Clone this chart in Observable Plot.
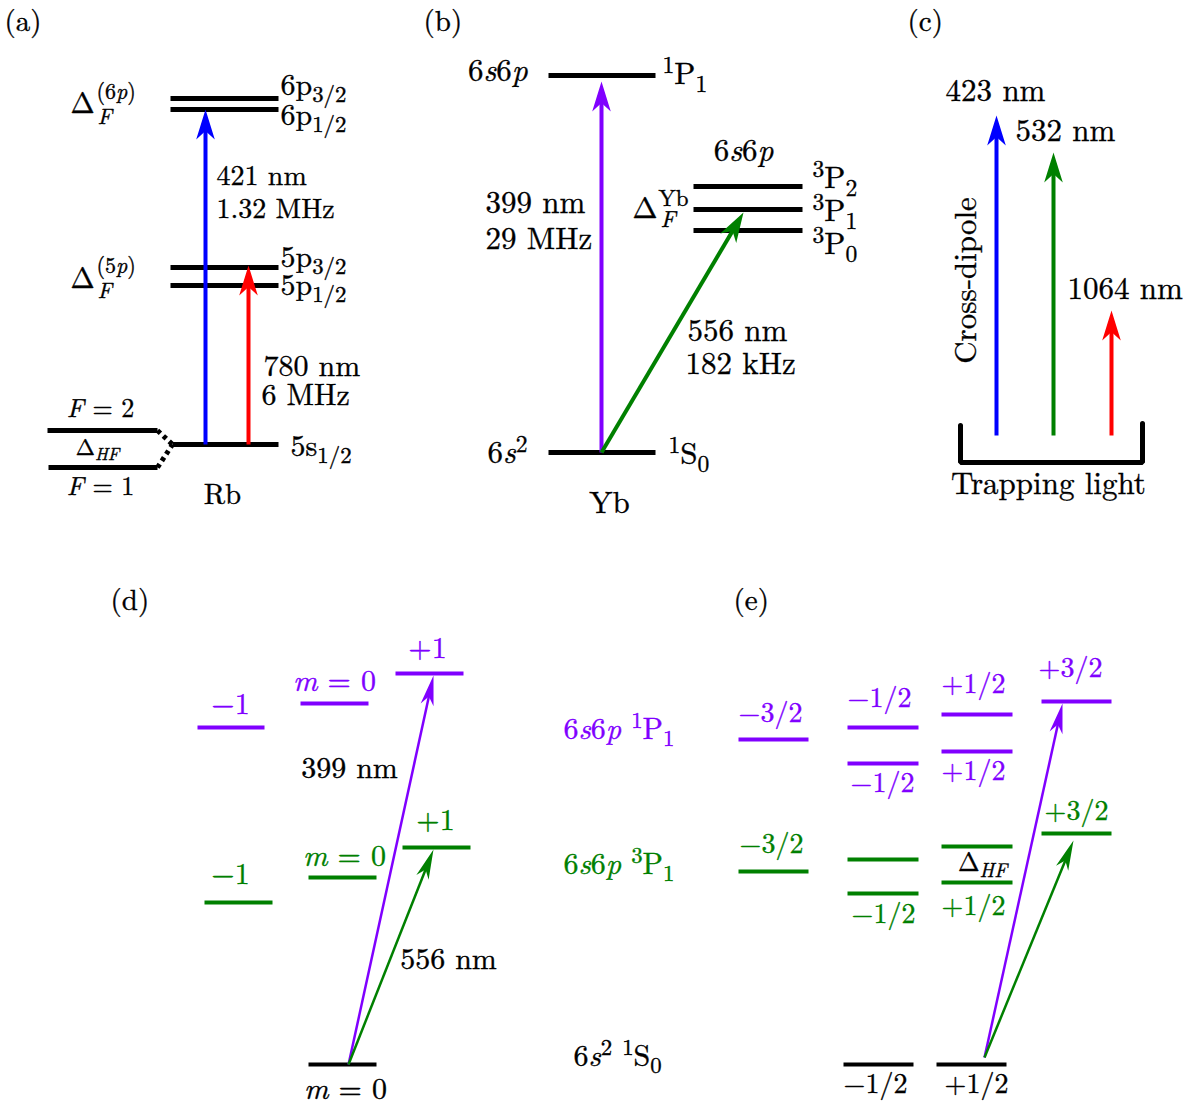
<!DOCTYPE html>
<html><head><meta charset="utf-8">
<script src="https://cdn.jsdelivr.net/npm/d3@7"></script>
<script src="https://cdn.jsdelivr.net/npm/@observablehq/plot@0.6"></script>
<style>
html,body{margin:0;padding:0;background:#fff;}
#chart svg{display:block;}
</style></head><body><div id="chart"></div>
<script>
const W = 1198, H = 1107;

// colour keys
const colorKeys = ["k", "b", "r", "v", "g"];
const colorValues = ["#000000", "#0000ff", "#ff0000", "#8000ff", "#008000"];

// energy levels (x1, x2, y, colour key) — panels (a),(b)
const levelsTop = [
  [170, 278, 98, "k"], [170, 278, 109, "k"],
  [170, 278, 267, "k"], [170, 278, 285, "k"],
  [172, 278, 444, "k"],
  [47, 157, 430, "k"], [48, 157, 467, "k"],
  [548, 655, 75, "k"],
  [693, 802, 186, "k"], [693, 802, 209, "k"], [693, 802, 230, "k"],
  [548, 655, 452, "k"]
];
// panels (d),(e)
const levelsBottom = [
  [197, 264, 727, "v"], [300, 368, 703, "v"], [395, 463, 673, "v"],
  [204, 272, 902, "g"], [308, 376, 877, "g"], [402, 470, 847, "g"],
  [308, 376, 1064, "k"],
  [738, 808, 739, "v"], [847, 918, 727, "v"], [847, 918, 763, "v"],
  [941, 1012, 714, "v"], [941, 1012, 751, "v"], [1041, 1111, 701, "v"],
  [738, 808, 871, "g"], [847, 918, 859, "g"], [847, 918, 893, "g"],
  [941, 1012, 846, "g"], [941, 1012, 882, "g"], [1041, 1111, 833, "g"],
  [843, 913, 1064, "k"], [936, 1006, 1064, "k"]
];
// hyperfine connectors (dotted)
const connectors = [
  [157, 430, 172, 444], [157, 467, 172, 444]
];
// trap bracket of panel (c)
const bracket = [[960, 425], [960, 462], [1142, 462], [1142, 423]];

// transitions (x1, y1, x2, y2, colour key)
const arrowsTop = [
  [205, 444, 205, 109, "b"], [248, 444, 248, 265, "r"],
  [601, 452, 601, 81, "v"], [601, 452, 743, 212, "g"],
  [996, 435, 996, 115, "b"], [1053, 435, 1053, 152, "g"], [1111, 435, 1111, 310, "r"]
];
const arrowsBottom = [
  [348, 1064, 433, 675, "v"], [348, 1064, 433, 849, "g"],
  [984, 1057, 1062, 703, "v"], [984, 1057, 1073, 840, "g"]
];

// labels: x, y, text, colour key, font size
const labelsStart = [
  [4, 21, "(a)", "k", 29],
  [280, 85, "6p_{3/2}", "k", 30], [280, 115, "6p_{1/2}", "k", 30],
  [280, 257, "5p_{3/2}", "k", 30], [280, 285, "5p_{1/2}", "k", 30],
  [290, 446, "5s_{1/2}", "k", 30],
  [70, 103, "Δ", "k", 29], [96, 91, "(6*p*)", "k", 22], [97, 116, "*F*", "k", 22],
  [70, 278, "Δ", "k", 29], [96, 265, "(5*p*)", "k", 22], [97, 290, "*F*", "k", 22],
  [216, 176, "421 nm", "k", 28], [216, 209, "1.32 MHz", "k", 28],
  [263, 366, "780 nm", "k", 30], [261, 395, "6 MHz", "k", 30],
  [423, 21, "(b)", "k", 29],
  [662, 74, "^{1}P_{1}", "k", 31],
  [812, 178, "^{3}P_{2}", "k", 31], [812, 211, "^{3}P_{1}", "k", 31], [812, 244, "^{3}P_{0}", "k", 31],
  [632, 208, "Δ", "k", 30], [658, 198, "Yb", "k", 23], [660, 219, "*F*", "k", 23],
  [485, 203, "399 nm", "k", 31], [485, 239, "29 MHz", "k", 31],
  [687, 331, "556 nm", "k", 31], [685, 364, "182 kHz", "k", 31],
  [668, 454, "^{1}S_{0}", "k", 31],
  [907, 21, "(c)", "k", 29], [1015, 131, "532 nm", "k", 31], [1067, 289, "1064 nm", "k", 31],
  [110, 600, "(d)", "k", 29],
  [733, 600, "(e)", "k", 29],
  [563, 729, "6*s*6*p* ^{1}P_{1}", "v", 30],
  [563, 864, "6*s*6*p* ^{3}P_{1}", "g", 30],
  [573, 1056, "6*s*^{2} ^{1}S_{0}", "k", 30]
];
const labelsEnd = [
  [527, 71, "6*s*6*p*", "k", 31], [527, 453, "6*s*^{2}", "k", 31]
];
const labelsMiddle = [
  [100, 408, "*F* = 2", "k", 26], [97, 447, "Δ_{*HF*}", "k", 23], [100, 486, "*F* = 1", "k", 26],
  [222, 494, "Rb", "k", 29],
  [743, 151, "6*s*6*p*", "k", 31], [609, 503, "Yb", "k", 31],
  [995, 91, "423 nm", "k", 31], [1048, 484, "Trapping light", "k", 31],
  [230, 704, "−1", "v", 30], [334, 681, "*m* = 0", "v", 30], [427, 648, "+1", "v", 30],
  [230, 874, "−1", "g", 30], [344, 856, "*m* = 0", "g", 30], [435, 820, "+1", "g", 30],
  [349, 768, "399 nm", "k", 30], [448, 959, "556 nm", "k", 30], [345, 1089, "*m* = 0", "k", 30],
  [770, 713, "−3/2", "v", 28], [771, 844, "−3/2", "g", 28],
  [879, 698, "−1/2", "v", 28], [973, 684, "+1/2", "v", 28], [1070, 668, "+3/2", "v", 28],
  [882, 783, "−1/2", "v", 28], [973, 771, "+1/2", "v", 28],
  [1076, 811, "+3/2", "g", 28], [982, 862, "Δ_{*HF*}", "k", 26],
  [883, 914, "−1/2", "g", 28], [973, 906, "+1/2", "g", 28],
  [875, 1084, "−1/2", "k", 28], [976, 1084, "+1/2", "k", 28]
];
const labelsRotated = [[966, 280, "Cross-dipole", "k", 31]];

// stealth arrow head symbol, tip at origin pointing up
function stealth(halfRatio) {
  return {
    draw(ctx, size) {
      const L = Math.sqrt(size / Math.PI);
      const w = L * halfRatio;
      ctx.moveTo(0, 0);
      ctx.lineTo(-w, L);
      ctx.lineTo(0, L * 0.72);
      ctx.lineTo(w, L);
      ctx.closePath();
    }
  };
}
const angle = d => Math.atan2(d[2] - d[0], -(d[3] - d[1])) * 180 / Math.PI;
const FONT = "Latin Modern Roman, Liberation Serif, serif";

function levelMark(data, sw) {
  return Plot.link(data, {x1: d => d[0], x2: d => d[1], y1: d => d[2], y2: d => d[2], stroke: d => d[3], strokeWidth: sw, strokeLinecap: "butt"});
}
function arrowMarks(data, sw, headLen, half) {
  return [
    Plot.arrow(data, {x1: d => d[0], y1: d => d[1], x2: d => d[2], y2: d => d[3], stroke: d => d[4], strokeWidth: sw, headLength: 0, insetEnd: headLen * 0.6, strokeLinecap: "butt"}),
    Plot.dot(data, {x: d => d[2], y: d => d[3], fill: d => d[4], r: headLen, symbol: stealth(half), rotate: angle, stroke: "none"})
  ];
}
function textMark(data, anchor, extra = {}) {
  return Plot.text(data, {x: d => d[0], y: d => d[1], text: d => d[2], fill: d => d[3], fontSize: d => d[4], textAnchor: anchor, fontFamily: FONT, ...extra});
}

const plot = Plot.plot({
  width: W, height: H, margin: 0,
  x: {domain: [0, W], range: [0, W], axis: null},
  y: {domain: [0, H], range: [0, H], axis: null},
  color: {type: "ordinal", domain: colorKeys, range: colorValues},
  marks: [
    levelMark(levelsTop, 5),
    levelMark(levelsBottom, 3.8),
    Plot.link(connectors, {x1: d => d[0], y1: d => d[1], x2: d => d[2], y2: d => d[3], stroke: "black", strokeWidth: 5, strokeDasharray: "4,4"}),
    Plot.line(bracket, {x: d => d[0], y: d => d[1], stroke: "black", strokeWidth: 5, strokeLinejoin: "miter"}),
    ...arrowMarks(arrowsTop, 4, 30, 0.31),
    ...arrowMarks(arrowsBottom, 2.5, 30, 0.22),
    textMark(labelsStart, "start"),
    textMark(labelsEnd, "end"),
    textMark(labelsMiddle, "middle"),
    textMark(labelsRotated, "middle", {rotate: -90})
  ]
});
plot.setAttribute("font-family", FONT);
document.getElementById("chart").appendChild(plot);

// lightweight markup: *italic*, _{sub}, ^{sup}
function parse(str) {
  const out = []; let italic = false; let i = 0; let buf = "";
  const flush = () => { if (buf) out.push({text: buf, mode: "n", italic}); buf = ""; };
  while (i < str.length) {
    const c = str[i];
    if (c === "*") { flush(); italic = !italic; i++; }
    else if ((c === "_" || c === "^") && str[i + 1] === "{") {
      flush();
      const j = str.indexOf("}", i);
      const inner = str.slice(i + 2, j);
      let it = italic;
      inner.split("*").forEach((part, k) => { if (k > 0) it = !it; if (part) out.push({text: part, mode: c === "_" ? "sub" : "sup", italic: it}); });
      i = j + 1;
    } else { buf += c; i++; }
  }
  flush();
  return out;
}
plot.querySelectorAll("text").forEach(t => {
  t.setAttribute("font-family", FONT);
  t.style.fontFamily = FONT;
  const fill = t.getAttribute("fill");
  if (fill) { t.setAttribute("stroke", fill); t.setAttribute("stroke-width", 0.35); }
  const raw = t.textContent;
  if (!/[_^*]/.test(raw)) return;
  const base = parseFloat(t.getAttribute("font-size")) || parseFloat(getComputedStyle(t).fontSize);
  const segs = parse(raw);
  t.textContent = "";
  let cur = 0;
  for (const s of segs) {
    const ts = document.createElementNS("http://www.w3.org/2000/svg", "tspan");
    const target = s.mode === "sub" ? 0.24 * base : s.mode === "sup" ? -0.38 * base : 0;
    if (target !== cur) ts.setAttribute("dy", target - cur);
    cur = target;
    if (s.mode !== "n") ts.setAttribute("font-size", 0.76 * base);
    if (s.italic) ts.setAttribute("font-style", "italic");
    ts.textContent = s.text;
    t.appendChild(ts);
  }
});
</script>
</body></html>
